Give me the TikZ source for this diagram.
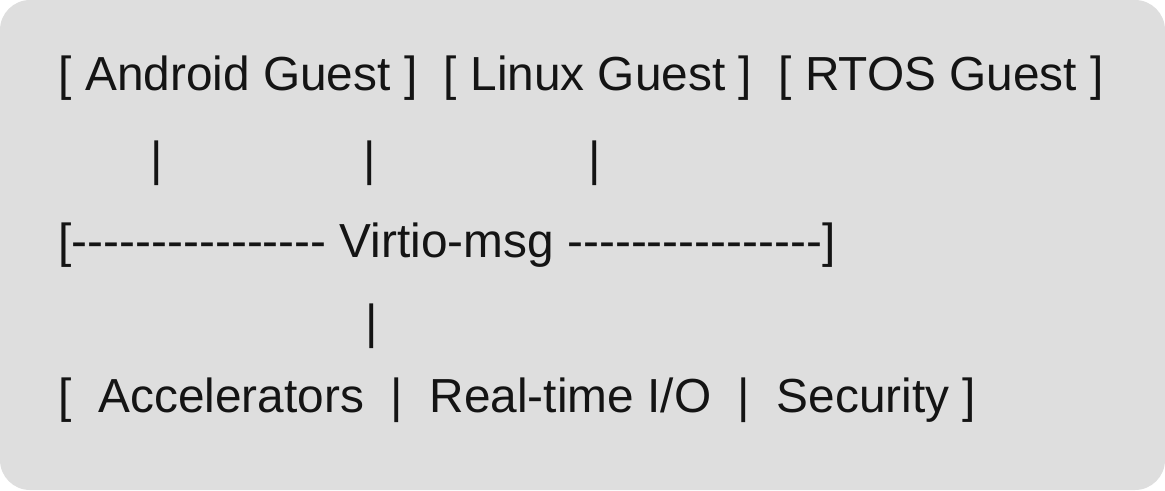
\documentclass[tikz,border=0pt]{standalone}
\usepackage{fontspec}
\setmainfont{Liberation Sans}[Ligatures=TeXOff]
\definecolor{boxgray}{RGB}{222,222,222}
\definecolor{textgray}{RGB}{20,20,20}
\tikzset{line/.style={anchor=base west, inner sep=0pt, font=\fontsize{13.6}{15}\selectfont, text=textgray}}
\begin{document}
\begin{tikzpicture}
% Background box
\useasboundingbox (0,0) rectangle (11.65,4.9);
\fill[boxgray, rounded corners=0.3cm] (0,0) rectangle (11.65,4.9);

% Guests
\node[line] (guests) at (0.58,4.0) {[ Android Guest ]\ \ [ Linux Guest ]\ \ [ RTOS Guest ]};
\node[line] (bar1) at (1.50,3.15) {|};
\node[line] (bar2) at (3.63,3.15) {|};
\node[line] (bar3) at (5.88,3.15) {|};

% Virtio-msg layer
\node[line] (virtio) at (0.58,2.33) {[---------------- Virtio-msg ----------------]};
\node[line] (bar4) at (3.65,1.52) {|};

% Services
\node[line] (services) at (0.58,0.78) {[\ \ Accelerators\ \ |\ \ Real-time I/O\ \ |\ \ Security ]};
\end{tikzpicture}
\end{document}
